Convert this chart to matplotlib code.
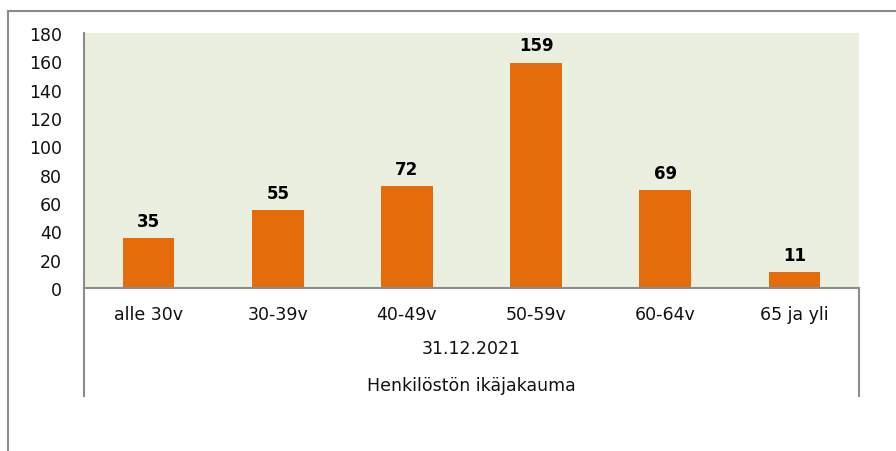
import matplotlib.pyplot as plt
from matplotlib.lines import Line2D

categories = ["alle 30v", "30-39v", "40-49v", "50-59v", "60-64v", "65 ja yli"]
values = [35, 55, 72, 159, 69, 11]
date_label = "31.12.2021"
group_label = "Henkilöstön ikäjakauma"
yticks = list(range(0, 181, 20))

W, H = 896, 452
fig = plt.figure(figsize=(W / 100, H / 100), dpi=100)
fig.patch.set_facecolor("white")

gray = "#8c8c8c"
font = "DejaVu Sans"
fs = 12.5

# plot area in pixel coordinates
left, right, top, bottom = 84, 859, 34, 289
ax = fig.add_axes([left / W, 1 - bottom / H, (right - left) / W, (bottom - top) / H])
ax.set_facecolor("#ebefdf")

x = list(range(len(categories)))
bars = ax.bar(x, values, width=0.4, color="#e46c0a", zorder=2)
ax.bar_label(bars, padding=6, fontsize=12, fontweight="bold", family="DejaVu Sans")

ax.set_xlim(-0.5, len(categories) - 0.5)
ax.set_ylim(0, 180)
ax.set_yticks(yticks)
ax.set_yticklabels([str(v) for v in yticks], family=font, fontsize=fs)
ax.set_xticks(x)
ax.set_xticklabels(categories, family=font, fontsize=fs)
ax.tick_params(axis="both", length=0, colors="#111111")
ax.tick_params(axis="y", pad=16)
ax.tick_params(axis="x", pad=12)

for s in ["top", "right"]:
    ax.spines[s].set_visible(False)
for s in ["left", "bottom"]:
    ax.spines[s].set_color(gray)
    ax.spines[s].set_linewidth(1.5)

# multi-level category axis
mid = (left + right) / 2
fig.text(mid / W, 1 - 349 / H, date_label, family=font, fontsize=fs, ha="center", va="center", color="#111111")
fig.text(mid / W, 1 - 386 / H, group_label, family=font, fontsize=fs, ha="center", va="center", color="#111111")
for px in (left, right):
    fig.add_artist(Line2D([px / W, px / W], [1 - bottom / H, 1 - 397 / H],
                          transform=fig.transFigure, color=gray, lw=1.5))

# chart area border (clipped at right and bottom)
fig.add_artist(Line2D([8 / W, 8 / W], [0, 1 - 12 / H], transform=fig.transFigure, color=gray, lw=1.5))
fig.add_artist(Line2D([8 / W, 1], [1 - 12 / H, 1 - 12 / H], transform=fig.transFigure, color=gray, lw=1.5))

fig.savefig("out.png", dpi=100)
